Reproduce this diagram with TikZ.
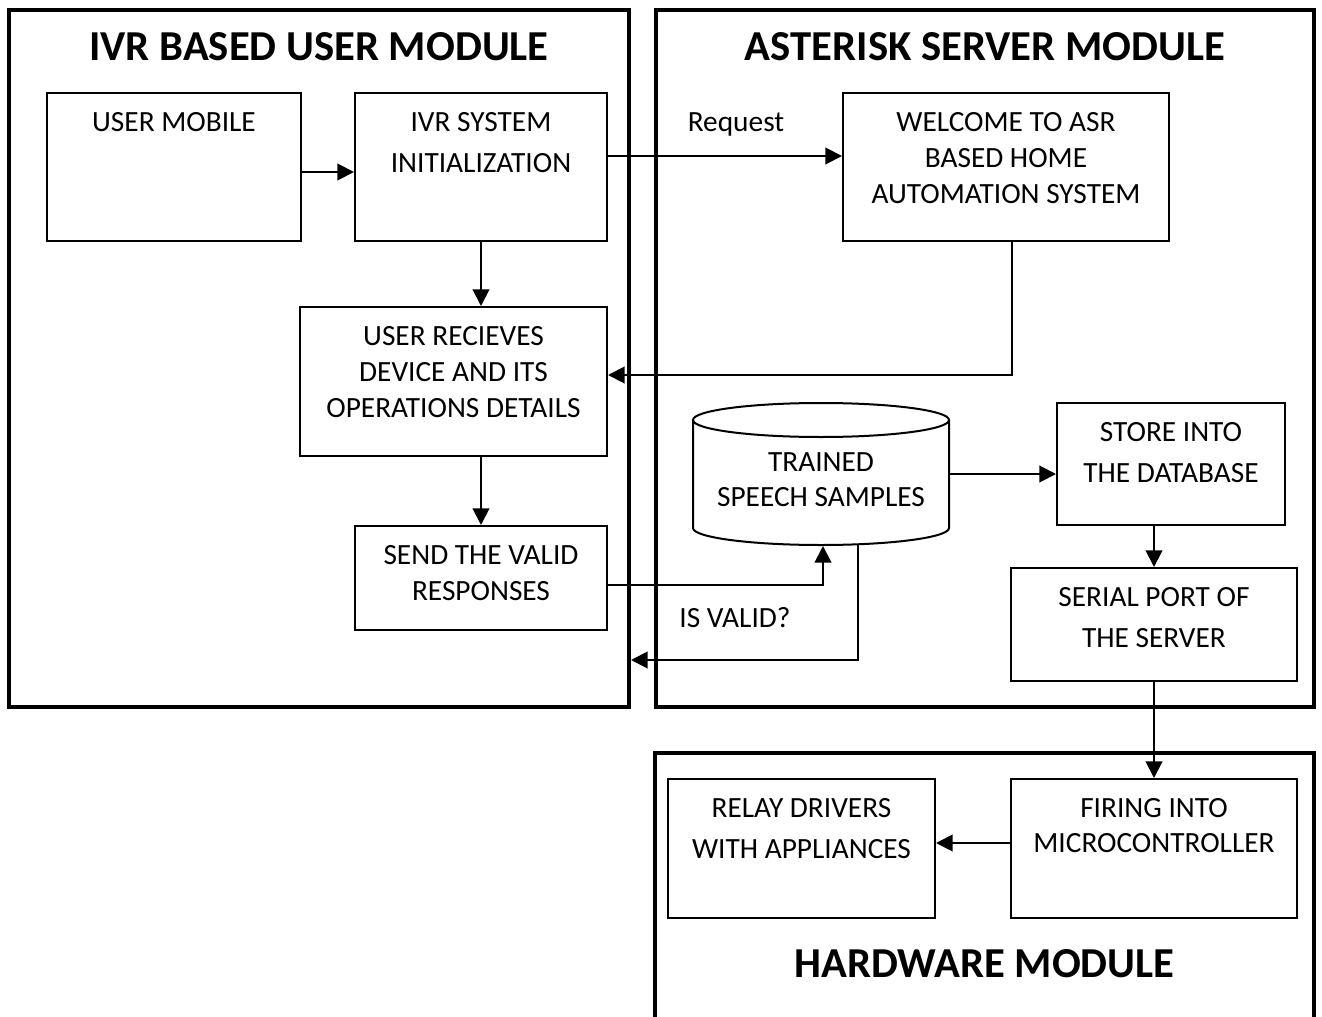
\documentclass[tikz,border=0pt]{standalone}
\usepackage{fontspec}
\setmainfont{Carlito}
\usetikzlibrary{positioning,arrows.meta}

\tikzset{every picture/.style={line width=1.5pt}}
\tikzset{
  frame/.style={draw, rectangle, line width=3pt, inner sep=0pt},
  box/.style={draw, rectangle, line width=1.5pt, inner sep=0pt},
  txt/.style={align=center, inner sep=0pt, font=\fontsize{22}{27}\selectfont},
  loose/.style={txt, font=\fontsize{22}{31}\selectfont},
  head/.style={inner sep=0pt, font=\fontsize{32}{38}\selectfont\bfseries},
  arr/.style={-{Triangle[length=12.5pt,width=12.5pt]}, line width=1.5pt},
}

\begin{document}
\begin{tikzpicture}[x=0.75pt,y=0.75pt,yscale=-1,xscale=1]
	\useasboundingbox (0,0) rectangle (1322,1017);

	% module frames
	\node[frame, minimum width=465pt, minimum height=522.75pt] (ivr) at (319,358.5) {};
	\node[frame, minimum width=493.5pt, minimum height=522.75pt] (ast) at (985,358.5) {};
	\node[frame, minimum width=494.25pt, minimum height=260.25pt] (hw) at (984.5,926.5) {};
	\node[head, below=18pt of ivr.north] (ivrhead) {IVR BASED USER MODULE};
	\node[head, below=18pt of ast.north] (asthead) {ASTERISK SERVER MODULE};
	\node[head, below=148.5pt of hw.north] (hwhead) {HARDWARE MODULE};

	% IVR module
	\node[box, minimum width=190.5pt, minimum height=111pt] (mob) at (174,167) {};
	\node[txt, below=14.5pt of mob.north] (mobtxt) {USER MOBILE};
	\node[box, minimum width=189pt, minimum height=111pt] (isys) at (481,167) {};
	\node[loose, below=14.5pt of isys.north] (isystxt) {IVR SYSTEM\\INITIALIZATION};
	\node[box, minimum width=230.25pt, minimum height=111.75pt] (urec) at (453.5,381.5) {};
	\node[txt, below=14.5pt of urec.north] (urectxt) {USER RECIEVES\\DEVICE AND ITS\\OPERATIONS DETAILS};
	\node[box, minimum width=189pt, minimum height=78pt] (send) at (481,578) {};
	\node[txt, below=14.5pt of send.north] (sendtxt) {SEND THE VALID\\RESPONSES};

	% server module
	\node[box, minimum width=244.5pt, minimum height=111pt] (welc) at (1006,167) {};
	\node[txt, below=14.5pt of welc.north] (welctxt) {WELCOME TO ASR\\BASED HOME\\AUTOMATION SYSTEM};
	% database cylinder
	\node[inner sep=0pt, minimum width=192pt, minimum height=106.5pt] (db) at (821,474) {};
	\draw (821,420) ellipse [x radius=128, y radius=17];
	\draw (693,420) -- (693,528) arc [start angle=180, end angle=0, x radius=128, y radius=17] -- (949,420);
	\node[txt, font=\fontsize{22}{26}\selectfont, below=37.5pt of db.north] (dbtxt) {TRAINED\\SPEECH SAMPLES};
	\node[box, minimum width=171pt, minimum height=91.5pt] (store) at (1171,464) {};
	\node[loose, below=14.5pt of store.north] (storetxt) {STORE INTO\\THE DATABASE};
	\node[box, minimum width=214.5pt, minimum height=84.75pt] (serial) at (1154,624.5) {};
	\node[loose, below=14.5pt of serial.north] (serialtxt) {SERIAL PORT OF\\THE SERVER};

	% hardware module
	\node[box, minimum width=214.5pt, minimum height=104.25pt] (fire) at (1154,848.5) {};
	\node[txt, font=\fontsize{22}{26}\selectfont, below=14.5pt of fire.north] (firetxt) {FIRING INTO\\MICROCONTROLLER};
	\node[box, minimum width=200.25pt, minimum height=104.25pt] (relay) at (801.5,848.5) {};
	\node[loose, below=14.5pt of relay.north] (relaytxt) {RELAY DRIVERS\\WITH APPLIANCES};

	% labels
	\node[txt, anchor=base] (req) at (736,131) {Request};
	\node[txt, anchor=base] (valid) at (735,627) {IS VALID?};

	% connectors (yshift runs downwards here, yscale=-1)
	\draw[arr] ([yshift=3.75pt]mob.east) -- ([yshift=3.75pt]isys.west);
	\draw[arr] ([yshift=-8.25pt]isys.east) -- ([yshift=-8.25pt]welc.west);
	\draw[arr] (isys.south) -- (isys.south |- urec.north);
	\draw[arr] ([xshift=4.5pt]welc.south) |- ([yshift=-4.875pt]urec.east);
	\draw[arr] (send.north |- urec.south) -- (send.north);
	\draw[arr] ([yshift=5.25pt]send.east) -| ([xshift=1.5pt]db.south);
	\coordinate (isvalid) at (858,660);
	\draw[arr] ([yshift=-1pt]db.south -| isvalid) |- (ivr.east |- isvalid);
	\draw[arr] (db.east) -- (db.east -| store.west);
	\draw[arr] (serial.north |- store.south) -- (serial.north);
	\draw[arr] (serial.south) -- (fire.north);
	\draw[arr] ([yshift=-4.125pt]fire.west) -- ([yshift=-4.125pt]relay.east);

\end{tikzpicture}
\end{document}
